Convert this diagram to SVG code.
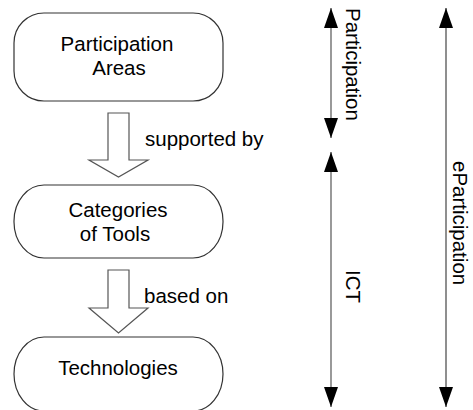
<svg xmlns="http://www.w3.org/2000/svg" width="473" height="410" viewBox="0 0 473 410">
<style>
.node{fill:#fff;stroke:#333;stroke-width:1.2}
.lbl{font-family:"Liberation Sans",Arial,sans-serif;font-size:20.5px;fill:#000}
.mid{text-anchor:middle}
.hollow{fill:#fff;stroke:#555;stroke-width:1.2}
.gray{stroke:#808080;stroke-width:1.6;fill:none}
.dark{stroke:#333;stroke-width:1.1;fill:none}
</style>
<defs>
<marker id="tri" viewBox="0 0 20 14" markerWidth="20" markerHeight="14" markerUnits="userSpaceOnUse" refX="20" refY="7" orient="auto-start-reverse">
<path d="M0,0 L20,7 L0,14 z" fill="#000"/>
</marker>
</defs>
<rect width="473" height="410" fill="#fff"/>
<g id="participation-areas">
<rect class="node" x="14" y="13" width="209" height="88" rx="30" ry="30"/>
<text class="lbl mid" x="117" y="51">Participation</text>
<text class="lbl mid" x="119" y="75">Areas</text>
</g>
<g id="categories-of-tools">
<rect class="node" x="14" y="185" width="209" height="73" rx="30" ry="36"/>
<text class="lbl mid" x="118" y="217">Categories</text>
<text class="lbl mid" x="115" y="241">of Tools</text>
</g>
<g id="technologies">
<rect class="node" x="14" y="337" width="209" height="74" rx="30" ry="37"/>
<text class="lbl mid" x="118" y="375">Technologies</text>
</g>
<g id="connectors">
<polygon class="hollow" points="108,113 129,113 129,160 148,160 118.5,177 89,160 108,160"/>
<text class="lbl" x="145" y="146">supported by</text>
<polygon class="hollow" points="108,270 129,270 129,308 148,308 118.5,333 89,308 108,308"/>
<text class="lbl" x="144" y="303">based on</text>
<line class="gray" x1="331" y1="8" x2="331" y2="138" marker-start="url(#tri)" marker-end="url(#tri)"/>
<line class="gray" x1="331" y1="152" x2="331" y2="407" marker-start="url(#tri)" marker-end="url(#tri)"/>
<line class="dark" x1="446" y1="8" x2="446" y2="407" marker-start="url(#tri)" marker-end="url(#tri)"/>
<text class="lbl" transform="translate(346,8) rotate(90)">Participation</text>
<text class="lbl" transform="translate(346,270) rotate(90)">ICT</text>
<text class="lbl" transform="translate(453,161) rotate(90)">eParticipation</text>
</g>
</svg>
